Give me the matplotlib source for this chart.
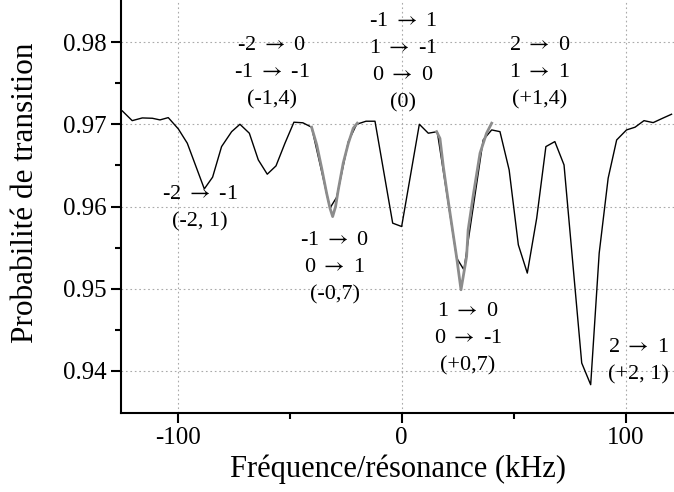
import matplotlib
matplotlib.use("Agg")
import matplotlib.pyplot as plt

# Measured transition probability (black line)
freq_khz = [-124.7, -120.3, -115.8, -111.3, -107.9, -104.2, -99.7, -95.7, -88.1, -84.4,
            -80.4, -75.9, -72.2, -68.0, -64.0, -60.0, -56.1, -52.1, -48.1, -44.1,
            -40.2, -32.0, -29.0, -23.8, -20.1, -15.9, -11.9, -4.0, 0.0, 7.9,
            11.9, 15.9, 24.6, 27.8, 36.4, 40.2, 43.9, 48.0, 52.1, 56.1,
            60.3, 64.4, 68.4, 72.5, 80.4, 84.4, 88.2, 92.2, 96.0, 100.4,
            104.2, 108.2, 112.3, 116.5, 120.5]
prob = [0.97164, 0.97046, 0.97079, 0.97075, 0.97055, 0.97083, 0.96945, 0.96771, 0.96215, 0.96358,
        0.96730, 0.96912, 0.97002, 0.96893, 0.96568, 0.96394, 0.96495, 0.96771, 0.97027, 0.97020,
        0.96966, 0.95981, 0.96114, 0.96791, 0.97002, 0.97039, 0.97039, 0.95798, 0.95757, 0.97002,
        0.96893, 0.96912, 0.95372, 0.95230, 0.96811, 0.96933, 0.96912, 0.96446, 0.95534, 0.95190,
        0.95859, 0.96730, 0.96791, 0.96507, 0.94095, 0.93831, 0.95433, 0.96345, 0.96811, 0.96933,
        0.96966, 0.97046, 0.97022, 0.97075, 0.97124]

# Fitted curves (gray)
fit1_x = [-40.2, -37.9, -35.7, -33.5, -32.0, -30.8, -29.5, -28.3, -26.1, -23.8, -21.6, -19.8]
fit1_y = [0.96966, 0.96751, 0.96467, 0.96163, 0.95981, 0.95878, 0.96000, 0.96203, 0.96528, 0.96771, 0.96954, 0.97015]
fit2_x = [15.6, 17.1, 18.6, 20.1, 21.6, 24.6, 26.5, 29.0, 29.7, 32.0, 35.0, 37.9, 40.2]
fit2_y = [0.96912, 0.96830, 0.96487, 0.96200, 0.95920, 0.95372, 0.94987, 0.95392, 0.95717, 0.96142, 0.96650, 0.96893, 0.97015]

x_ticks = [-100, 0, 100]
x_tick_labels = ["-100", "0", "100"]
y_ticks = [0.94, 0.95, 0.96, 0.97, 0.98]
y_tick_labels = ["0.94", "0.95", "0.96", "0.97", "0.98"]

plt.rcParams['font.family'] = ['Liberation Serif', 'DejaVu Serif']
plt.rcParams['mathtext.fontset'] = 'stix'

fig = plt.figure(figsize=(6.74, 4.92), dpi=100)
ax = fig.add_axes([121/674, 1 - 412.7/492, 1 - 121/674, 412.7/492])

ax.plot(freq_khz, prob, color='black', lw=1.0, zorder=3)
ax.plot(fit1_x, fit1_y, color='#8c8c8c', lw=2.0, zorder=4)
ax.plot(fit2_x, fit2_y, color='#8c8c8c', lw=2.0, zorder=4)

ax.set_xlim(-125.3, 121.6)
ax.set_ylim(0.9349, 0.98515)
ax.set_xticks(x_ticks)
ax.set_xticklabels(x_tick_labels)
ax.set_yticks(y_ticks)
ax.set_yticklabels(y_tick_labels)
ax.set_xticks([-50, 50], minor=True)
ax.set_yticks([0.945, 0.955, 0.965, 0.975], minor=True)

ax.grid(True, which='major', linestyle=(0, (1.5, 2.5)), color='#aaaaaa', lw=0.8, zorder=0)
for s in ['top', 'right']:
    ax.spines[s].set_visible(False)
for s in ['left', 'bottom']:
    ax.spines[s].set_linewidth(1.5)

ax.tick_params(axis='both', which='major', direction='out', length=7, width=1.5, labelsize=18, pad=3.5)
ax.tick_params(axis='both', which='minor', direction='out', length=4, width=1.5)

ax.set_xlabel("Fréquence/résonance (kHz)", fontsize=22, labelpad=4)
ax.set_ylabel("Probabilité de transition", fontsize=22.5)
ax.yaxis.set_label_coords(-0.146, 0.5336)

ann = dict(ha='center', va='center', multialignment='center', fontsize=16, linespacing=1.58, zorder=5)
arrow = r"$\rightarrow$"
ax.text(-57.9, 0.97627, f"-2 {arrow} 0\n-1 {arrow} -1\n(-1,4)", **ann)
ax.text(0.6, 0.97760, f"-1 {arrow} 1\n1 {arrow} -1\n0 {arrow} 0\n(0)", **ann)
ax.text(61.7, 0.97627, f"2 {arrow} 0\n1 {arrow} 1\n(+1,4)", **ann)
ax.text(-90.0, 0.95984, f"-2 {arrow} -1\n(-2, 1)", **ann)
ax.text(-29.8, 0.95254, f"-1 {arrow} 0\n0 {arrow} 1\n(-0,7)", **ann)
ax.text(29.6, 0.94391, f"1 {arrow} 0\n0 {arrow} -1\n(+0,7)", **ann)
ax.text(105.9, 0.94111, f"2 {arrow} 1\n(+2, 1)", **ann)

fig.savefig("out.png", dpi=100)
